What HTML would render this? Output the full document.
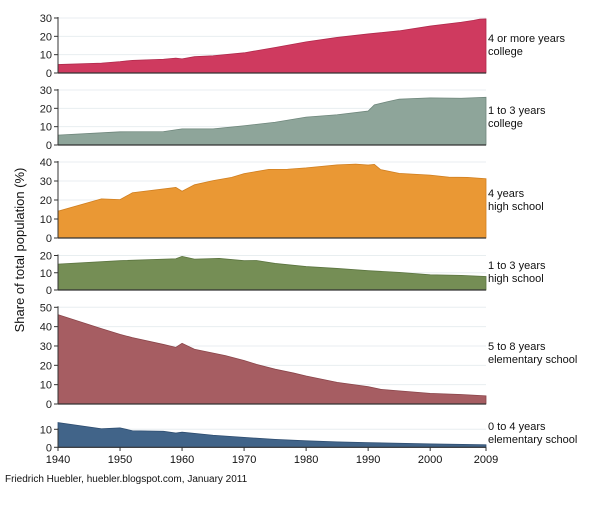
<!DOCTYPE html>
<html><head><meta charset="utf-8"><style>
body{margin:0;background:#fff;}
svg{font-family:"Liberation Sans",sans-serif;}
</style></head><body>
<svg id="chart" width="600" height="500" xmlns="http://www.w3.org/2000/svg"></svg>
<script>
const years1=[1940,1947,1950,1952,1957,1959,1960,1962,1965,1970,1975,1980,1985,1990,1995,2000,2005,2007,2008,2009];
const college4=[4.6,5.4,6.2,6.9,7.5,8.1,7.7,8.9,9.4,11,13.9,17,19.4,21.3,23,25.6,27.7,28.7,29.4,29.5];
const years2=[1940,1950,1957,1960,1965,1970,1975,1980,1985,1990,1991,1993,1995,2000,2005,2009];
const college13=[5.4,7.2,7.3,8.8,8.8,10.5,12.4,15.2,16.5,18.5,21.9,23.5,25,25.7,25.5,26];
const years3=[1940,1947,1950,1952,1959,1960,1962,1965,1968,1970,1974,1977,1980,1985,1988,1990,1991,1992,1995,2000,2003,2006,2009];
const hs4=[14.1,20.6,20.2,23.8,26.6,24.6,28,30.2,31.9,33.9,36.1,36.2,36.9,38.5,38.9,38.4,38.7,36.0,34.0,33.1,32.0,31.9,31.2];
const years4=[1940,1950,1959,1960,1962,1966,1970,1972,1975,1980,1985,1990,1995,2000,2005,2009];
const hs13=[15.0,17.0,18.1,19.5,17.9,18.3,17.0,17.1,15.4,13.6,12.5,11.2,10.2,8.8,8.5,7.8];
const years5=[1940,1947,1950,1952,1957,1959,1960,1962,1967,1970,1972,1975,1978,1980,1985,1990,1992,1995,2000,2005,2009];
const elem58=[46.2,39,36,34.3,30.8,29.3,31.4,28.3,25.0,22.5,20.5,18.0,16.0,14.5,11.2,9.0,7.6,6.8,5.5,4.9,4.2];
const years6=[1940,1947,1950,1952,1957,1959,1960,1965,1970,1975,1980,1985,1990,2000,2009];
const elem04=[13.7,10.3,10.8,9.2,8.9,7.9,8.4,6.7,5.5,4.4,3.6,3.0,2.6,1.9,1.4];
const xTicks=[1940,1950,1960,1970,1980,1990,2000,2009];

const svg=document.getElementById('chart');
const NS='http://www.w3.org/2000/svg';
const X0=58,X1=486;
function xs(y){return X0+(y-1940)*(X1-X0)/69;}
function mk(t,a){const e=document.createElementNS(NS,t);for(const k in a)e.setAttribute(k,a[k]);svg.appendChild(e);return e;}

const panels=[
 {name:'college-4plus',yr:years1,v:college4,max:30,top:18,base:73,ticks:[0,10,20,30],fill:'#cf3a5f',stroke:'#b02a4c',lab:['4 or more years','college'],ly:42},
 {name:'college-1to3',yr:years2,v:college13,max:30,top:90,base:145,ticks:[0,10,20,30],fill:'#8ea59a',stroke:'#6f877c',lab:['1 to 3 years','college'],ly:114},
 {name:'highschool-4',yr:years3,v:hs4,max:40,top:162,base:238,ticks:[0,10,20,30,40],fill:'#ea9834',stroke:'#d07f20',lab:['4 years','high school'],ly:197},
 {name:'highschool-1to3',yr:years4,v:hs13,max:20,top:255.5,base:290,ticks:[0,10,20],fill:'#758e55',stroke:'#5c7540',lab:['1 to 3 years','high school'],ly:269},
 {name:'elementary-5to8',yr:years5,v:elem58,max:50,top:307.3,base:404,ticks:[0,10,20,30,40,50],fill:'#a65d62',stroke:'#8a454a',lab:['5 to 8 years','elementary school'],ly:350},
 {name:'elementary-0to4',yr:years6,v:elem04,max:10,top:429.3,base:447.3,ticks:[0,10],fill:'#416489',stroke:'#2e4d70',lab:['0 to 4 years','elementary school'],ly:430}
];
panels.forEach(p=>{
 const ys=v=>p.base-(v/p.max)*(p.base-p.top);
 p.ticks.forEach(t=>{
  if(t>0){const g=mk('line',{x1:X0,x2:X1,y1:ys(t),y2:ys(t),stroke:'#e8eef0','stroke-width':1});
  }
  const tk=mk('line',{x1:X0-4,x2:X0,y1:ys(t),y2:ys(t),stroke:'#333','stroke-width':1});
  
  const tx=mk('text',{x:X0-6,y:ys(t)+4,'text-anchor':'end','font-size':11,fill:'#222'});
  tx.textContent=t;
  
 });
 let d='M'+xs(p.yr[0])+','+p.base;
 p.yr.forEach((y,i)=>{d+=' L'+xs(y)+','+ys(p.v[i]);});
 d+=' L'+xs(p.yr[p.yr.length-1])+','+p.base+' Z';
 const a=mk('path',{d:d,fill:p.fill,stroke:p.stroke,'stroke-width':0.8});
 
 const ax=mk('line',{x1:X0,x2:X0,y1:p.top-1,y2:p.base,stroke:'#333','stroke-width':1});
 
 const bl=mk('line',{x1:X0,x2:X1,y1:p.base,y2:p.base,stroke:'#333','stroke-width':1.2});
 
 p.lab.forEach((s,i)=>{
  const t=mk('text',{x:488,y:p.ly+i*13,'font-size':11,fill:'#111'});
  t.textContent=s;
  
 });
});
xTicks.forEach(y=>{
 const tk=mk('line',{x1:xs(y),x2:xs(y),y1:447.3,y2:451,stroke:'#333','stroke-width':1});
 
 const t=mk('text',{x:xs(y),y:463,'text-anchor':'middle','font-size':11,fill:'#111'});
 t.textContent=y;
 
});
const yt=mk('text',{x:0,y:0,transform:'translate(24,250) rotate(-90)','text-anchor':'middle','font-size':13,fill:'#111'});
yt.textContent='Share of total population (%)';

const ft=mk('text',{x:5,y:482,'font-size':10,fill:'#111'});
ft.textContent='Friedrich Huebler, huebler.blogspot.com, January 2011';

</script>
</body></html>
